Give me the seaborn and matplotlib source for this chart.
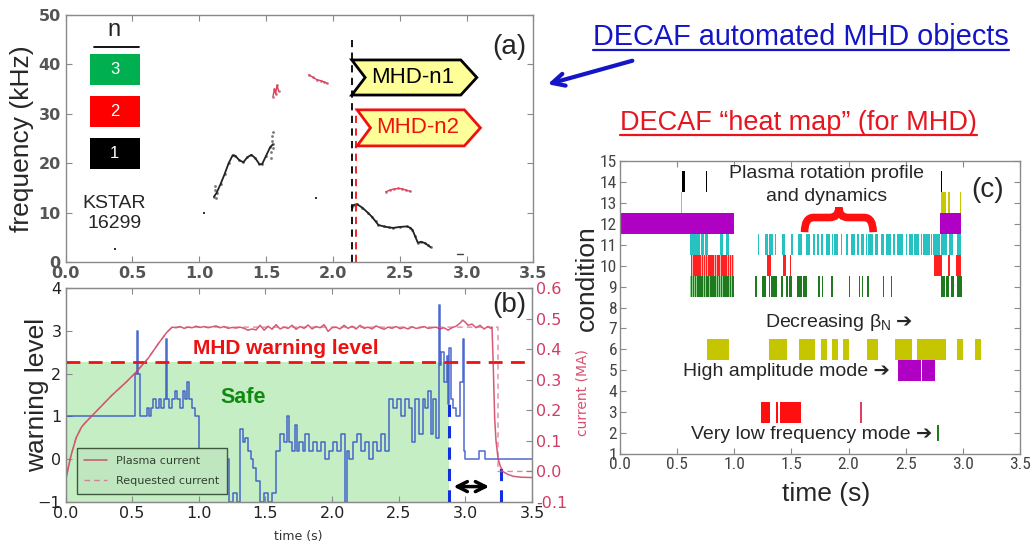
import matplotlib
matplotlib.use("Agg")
import numpy as np
import pandas as pd
import matplotlib.pyplot as plt
import seaborn as sns
from matplotlib.patches import Polygon, Rectangle, PathPatch, FancyArrowPatch
from matplotlib.path import Path
from matplotlib.lines import Line2D
from matplotlib.ticker import FormatStrFormatter
from matplotlib import font_manager

# ---------------- Panel (a): MHD mode traces (time s, frequency kHz) ----------------
n1_early_t = [1.11, 1.13, 1.16, 1.19, 1.22, 1.25, 1.27, 1.30, 1.33, 1.36, 1.39, 1.42, 1.45, 1.47, 1.50, 1.53, 1.55]
n1_early_f = [13.2, 14.0, 15.8, 17.8, 20.0, 21.6, 21.5, 20.6, 20.2, 21.2, 21.7, 21.0, 19.8, 19.8, 21.5, 23.2, 23.8]
n1_burst_t = [1.54, 1.54, 1.545, 1.545, 1.55, 1.55, 1.12, 1.12, 1.125]
n1_burst_f = [21.0, 22.2, 24.5, 25.5, 26.3, 23.0, 14.5, 15.3, 13.0]
n1_late_t = [2.14, 2.16, 2.18, 2.22, 2.26, 2.29, 2.32, 2.34, 2.38, 2.42, 2.45, 2.50, 2.555, 2.58, 2.595, 2.615, 2.635, 2.66, 2.69, 2.71, 2.73]
n1_late_f = [11.2, 11.6, 11.7, 11.0, 10.0, 9.2, 8.2, 7.5, 7.2, 7.0, 6.9, 7.1, 7.2, 6.9, 6.5, 5.2, 3.9, 4.1, 3.8, 3.4, 3.0]
n2_seg1_t = [1.552, 1.562, 1.572, 1.582, 1.594]
n2_seg1_f = [33.5, 35.0, 34.0, 35.8, 34.6]
n2_seg2_t = [1.82, 1.85, 1.88, 1.91, 1.93, 1.955]
n2_seg2_f = [37.9, 37.4, 36.9, 36.7, 36.5, 36.2]
n2_seg3_t = [2.395, 2.43, 2.46, 2.49, 2.52, 2.55, 2.58]
n2_seg3_f = [14.2, 14.6, 14.8, 14.9, 14.8, 14.5, 14.3]
isolated_t = [0.37, 1.033, 1.875]
isolated_f = [2.6, 9.85, 12.9]
late_dash_t = [2.93, 2.97]
late_dash_f = [1.6, 1.6]
n1_onset = 2.141
n1_onset_top = 44.9
n2_onset = 2.176
n2_onset_top = 30.8
mode_numbers = ["3", "2", "1"]
mode_colors = ["#00b050", "#ff0000", "#000000"]
tag_n1 = dict(x0=2.141, x1=3.076, lo=33.8, hi=40.9)
tag_n2 = dict(x0=2.181, x1=3.103, lo=23.5, hi=30.8)

# ---------------- Panel (b): warning level and plasma current ----------------
warn_t = [0.00, 0.52, 0.535, 0.545, 0.56, 0.61, 0.63, 0.64, 0.66, 0.68,
          0.70, 0.72, 0.74, 0.755, 0.765, 0.78, 0.80, 0.82, 0.84, 0.86,
          0.88, 0.90, 0.91, 0.93, 0.95, 0.97, 1.00, 1.05, 1.10, 1.13,
          1.16, 1.18, 1.20, 1.23, 1.26, 1.29, 1.31, 1.33, 1.35, 1.37,
          1.39, 1.41, 1.43, 1.46, 1.49, 1.52, 1.55, 1.58, 1.61, 1.64,
          1.66, 1.68, 1.70, 1.72, 1.735, 1.75, 1.78, 1.80, 1.83, 1.86,
          1.89, 1.92, 1.95, 1.98, 2.01, 2.04, 2.07, 2.10, 2.11, 2.13,
          2.16, 2.19, 2.22, 2.25, 2.28, 2.31, 2.34, 2.37, 2.40, 2.43,
          2.46, 2.49, 2.52, 2.55, 2.58, 2.60, 2.62, 2.65, 2.68, 2.70,
          2.72, 2.74, 2.76, 2.78, 2.80, 2.81, 2.82, 2.84, 2.86, 2.87,
          2.88, 2.89, 2.91, 2.93, 2.96, 2.98, 2.99, 3.00, 3.02, 3.10,
          3.15, 3.50]
warn_w = [1.0, 2.0, 3.0, 2.0, 1.0, 1.2, 1.0, 1.2, 1.4, 1.2,
          1.4, 1.2, 1.4, 2.8, 1.4, 1.2, 1.4, 1.6, 1.4, 1.2,
          1.6, 1.4, 1.8, 1.4, 1.2, 1.0, 0.0, 0.2, 0.0, 0.2,
          0.0, -0.4, 0.0, -1.0, -0.8, -1.0, 0.7, 0.4, 0.5, 0.2,
          0.0, -0.2, -0.5, -1.0, -0.8, -1.0, -0.8, 0.2, 0.6, 0.4,
          1.0, 0.4, 0.2, 0.8, 0.2, 0.4, 0.2, 0.6, 0.2, 0.4,
          0.2, 0.4, 0.0, 0.2, 0.4, 0.2, 0.6, -1.0, 0.2, 0.0,
          0.4, 0.6, 0.2, 0.4, 0.0, 0.4, 0.2, 0.6, 0.2, 1.4,
          1.2, 1.4, 1.0, 1.4, 1.2, 0.4, 1.4, 0.6, 1.4, 1.2,
          1.6, 0.6, 1.4, 0.5, 3.6, 2.2, 2.5, 1.8, 2.4, 1.3,
          2.6, 1.4, 1.2, 1.0, 1.8, 2.8, 0.2, 0.0, 0.0, 0.2,
          0.0, 0.0]
ip_t = [0.00, 0.04, 0.08, 0.12, 0.15, 0.25, 0.35, 0.45, 0.53, 0.62,
        0.70, 0.76, 0.80, 0.83, 0.86, 0.89, 0.92, 0.95, 0.98, 1.01,
        1.04, 1.07, 1.10, 1.13, 1.16, 1.19, 1.22, 1.25, 1.28, 1.31,
        1.34, 1.37, 1.40, 1.43, 1.46, 1.49, 1.52, 1.55, 1.58, 1.61,
        1.64, 1.67, 1.70, 1.73, 1.76, 1.79, 1.82, 1.85, 1.88, 1.91,
        1.94, 1.97, 2.00, 2.03, 2.06, 2.09, 2.12, 2.15, 2.18, 2.21,
        2.24, 2.27, 2.30, 2.33, 2.36, 2.39, 2.42, 2.45, 2.48, 2.51,
        2.54, 2.57, 2.60, 2.63, 2.66, 2.69, 2.72, 2.75, 2.78, 2.81,
        2.84, 2.87, 2.90, 2.93, 2.96, 2.98, 3.00, 3.02, 3.05, 3.08,
        3.11, 3.14, 3.17, 3.19, 3.20, 3.21, 3.22, 3.23, 3.245, 3.26,
        3.28, 3.32, 3.36, 3.42, 3.50]
ip_ma = [-0.03, 0.05, 0.11, 0.145, 0.16, 0.205, 0.25, 0.29, 0.325, 0.37,
         0.42, 0.455, 0.472, 0.470, 0.474, 0.468, 0.472, 0.470, 0.475, 0.471,
         0.474, 0.470, 0.473, 0.476, 0.470, 0.474, 0.468, 0.471, 0.469, 0.472,
         0.468, 0.462, 0.466, 0.463, 0.478, 0.462, 0.475, 0.465, 0.480, 0.466,
         0.472, 0.468, 0.478, 0.465, 0.474, 0.468, 0.479, 0.466, 0.474, 0.470,
         0.480, 0.458, 0.470, 0.472, 0.466, 0.478, 0.468, 0.475, 0.466, 0.478,
         0.468, 0.472, 0.466, 0.476, 0.470, 0.465, 0.472, 0.468, 0.474, 0.467,
         0.471, 0.466, 0.473, 0.468, 0.470, 0.474, 0.468, 0.470, 0.472, 0.466,
         0.470, 0.462, 0.470, 0.475, 0.485, 0.495, 0.488, 0.478, 0.482, 0.470,
         0.478, 0.466, 0.474, 0.468, 0.472, 0.337, 0.173, 0.10, 0.043, 0.02,
         0.0, -0.01, -0.016, -0.019, -0.02]
req_t = [0.00, 0.04, 0.08, 0.12, 0.15, 0.25, 0.35, 0.45, 0.53, 0.62, 0.70, 0.76, 0.80, 3.245, 3.245, 3.50]
req_ma = [-0.03, 0.05, 0.11, 0.145, 0.16, 0.205, 0.25, 0.29, 0.325, 0.37, 0.42, 0.455, 0.472, 0.472, 0.0, 0.0]
warning_threshold = 2.28
safe_end = 2.88
alarm_t = 2.88
alarm_top = 1.3
disrupt_t = 3.27
disrupt_top = -0.2
lead_arrow = (2.89, 3.20, -0.64)

# ---------------- Panel (c): DECAF heat map (start time s, duration s) ----------------
row14_black = [(0.545, 0.022), (0.752, 0.012), (2.806, 0.010)]
row14_gray = [(1.37, 0.006)]
row13_yellow = [(0.53, 0.010), (2.805, 0.045), (2.868, 0.022), (2.975, 0.012)]
row12_magenta = [(0.0, 1.0), (2.80, 0.185)]
row11_cyan = [(0.612, 0.025), (0.640, 0.025), (0.668, 0.012), (0.685, 0.012), (0.705, 0.030),
              (0.740, 0.033), (0.875, 0.030), (0.930, 0.028),
              (1.205, 0.012), (1.265, 0.030), (1.300, 0.040), (1.355, 0.012), (1.420, 0.022),
              (1.500, 0.015), (1.560, 0.030), (1.630, 0.030), (1.690, 0.020), (1.725, 0.012),
              (1.755, 0.025), (1.800, 0.035), (1.855, 0.012), (1.875, 0.035), (1.930, 0.012),
              (1.975, 0.020), (2.020, 0.035), (2.075, 0.012), (2.110, 0.025), (2.150, 0.012),
              (2.170, 0.040), (2.230, 0.030), (2.280, 0.030), (2.330, 0.040), (2.390, 0.012),
              (2.420, 0.060), (2.500, 0.012), (2.530, 0.030), (2.575, 0.040), (2.630, 0.012),
              (2.655, 0.060), (2.720, 0.012), (2.740, 0.060), (2.805, 0.055), (2.880, 0.030),
              (2.945, 0.040)]
row10_red_band = [(0.62, 0.38)]
row10_red = [(0.622, 0.012), (0.640, 0.012), (0.658, 0.014), (0.676, 0.012), (0.694, 0.016),
             (0.714, 0.012), (0.732, 0.014), (0.752, 0.012), (0.770, 0.016), (0.790, 0.012),
             (0.808, 0.014), (0.828, 0.012), (0.846, 0.016), (0.866, 0.012), (0.884, 0.014),
             (0.904, 0.012), (0.922, 0.016), (0.942, 0.012), (0.960, 0.014), (0.980, 0.012),
             (1.285, 0.035), (1.430, 0.020), (1.490, 0.008), (2.750, 0.070), (2.870, 0.020),
             (2.940, 0.045)]
row_pink_thin = [(1.738, 0.006)]
row9_green_band = [(0.615, 0.385)]
row9_green = [(0.618, 0.012), (0.636, 0.014), (0.656, 0.012), (0.674, 0.016), (0.694, 0.012),
              (0.712, 0.014), (0.732, 0.012), (0.750, 0.016), (0.770, 0.012), (0.788, 0.014),
              (0.808, 0.012), (0.826, 0.016), (0.846, 0.012), (0.864, 0.014), (0.884, 0.012),
              (0.902, 0.016), (0.922, 0.012), (0.940, 0.014), (0.960, 0.012), (0.978, 0.016),
              (1.185, 0.010), (1.245, 0.030), (1.300, 0.012), (1.320, 0.050), (1.405, 0.025),
              (1.455, 0.012), (1.475, 0.030), (1.545, 0.050), (1.605, 0.035), (1.735, 0.012),
              (1.765, 0.008), (1.850, 0.012), (2.000, 0.010), (2.090, 0.012), (2.115, 0.015),
              (2.160, 0.020), (2.300, 0.010), (2.375, 0.008), (2.810, 0.030), (2.850, 0.030),
              (2.900, 0.025), (2.950, 0.040)]
row6_yellow = [(0.758, 0.199), (1.306, 0.152), (1.566, 0.140), (1.756, 0.052), (1.852, 0.058),
               (1.954, 0.052), (2.158, 0.096), (2.406, 0.146), (2.601, 0.251), (2.951, 0.052),
               (3.106, 0.052)]
row5_magenta = [(2.435, 0.200), (2.640, 0.115)]
row3_red = [(1.234, 0.078), (1.362, 0.017), (1.400, 0.181)]
row3_crimson = [(2.100, 0.014)]
row2_green = [(2.770, 0.020)]

# ---------------- style ----------------
sns.set_style("white")
avail = {f.name for f in font_manager.fontManager.ttflist}
NARROW, tick_size_c = "DejaVu Sans", 10
for cand, sz in [("Liberation Sans Narrow", 13), ("Roboto Condensed", 12.5),
                 ("DejaVu Sans Condensed", 11), ("Roboto", 12)]:
    if cand in avail:
        NARROW, tick_size_c = cand, sz
        break
ARIAL = ["Liberation Sans", "DejaVu Sans"]
plt.rcParams["font.family"] = ["DejaVu Sans"]
plt.rcParams["mathtext.fontset"] = "custom"
plt.rcParams["mathtext.rm"] = "Liberation Sans"
plt.rcParams["mathtext.it"] = "Liberation Sans:italic"
plt.rcParams["mathtext.bf"] = "Liberation Sans:bold"

W, H = 1031, 547
fig = plt.figure(figsize=(W / 100, H / 100), dpi=100)
fig.patch.set_facecolor("white")

def fbox(l, t, r, b):
    return [l / W, 1 - b / H, (r - l) / W, (b - t) / H]

ax_a = fig.add_axes(fbox(65.5, 15, 533.5, 262))
ax_b = fig.add_axes(fbox(65.5, 288, 532, 502))
ax_c = fig.add_axes(fbox(620, 161, 1020, 454))

def style_axes(ax, spine="#8a8a8a"):
    for s in ax.spines.values():
        s.set_color(spine)
        s.set_linewidth(1.0)
    ax.tick_params(direction="in", length=4, width=0.8, color="#8a8a8a",
                   top=True, right=True, left=True, bottom=True)

# ======================= Panel (a) =======================
style_axes(ax_a)
kw_line = dict(estimator=None, sort=False, legend=False)
sns.lineplot(x=n1_early_t, y=n1_early_f, ax=ax_a, color="#222222", lw=1.3, **kw_line)
sns.lineplot(x=n1_late_t, y=n1_late_f, ax=ax_a, color="#222222", lw=1.3, **kw_line)
sns.scatterplot(x=n1_early_t + n1_late_t + n1_burst_t, y=n1_early_f + n1_late_f + n1_burst_f,
                ax=ax_a, color="#777777", s=4, marker="o", linewidth=0, legend=False)
for tt, ff in [(n2_seg1_t, n2_seg1_f), (n2_seg2_t, n2_seg2_f), (n2_seg3_t, n2_seg3_f)]:
    sns.lineplot(x=tt, y=ff, ax=ax_a, color="#e0405a", lw=1.0, **kw_line)
    sns.scatterplot(x=tt, y=ff, ax=ax_a, color="#c08090", s=4, linewidth=0, legend=False)
sns.scatterplot(x=isolated_t, y=isolated_f, ax=ax_a, color="#333333", s=3, marker="s",
                linewidth=0, legend=False)
sns.lineplot(x=late_dash_t, y=late_dash_f, ax=ax_a, color="#444444", lw=1.0, **kw_line)
ax_a.vlines(n1_onset, 0, n1_onset_top, colors="black", linestyles=(0, (4, 3)), lw=1.3)
ax_a.vlines(n2_onset, 0, n2_onset_top, colors="#ee1111", linestyles=(0, (4, 3)), lw=1.3)

def mode_tag(ax, tag, text, edge):
    x0, x1, lo, hi = tag["x0"], tag["x1"], tag["lo"], tag["hi"]
    ym = (lo + hi) / 2
    notch, tip = 0.10, 0.12
    verts = [(x0, hi), (x1 - tip, hi), (x1, ym), (x1 - tip, lo), (x0, lo), (x0 + notch, ym)]
    ax.add_patch(Polygon(verts, closed=True, fc="#ffff99", ec=edge, lw=2.0, zorder=5))
    ax.text((x0 + notch + x1 - tip) / 2, ym, text, color=edge, fontsize=16, family=ARIAL,
            ha="center", va="center", zorder=6)

mode_tag(ax_a, tag_n1, "MHD-n1", "black")
mode_tag(ax_a, tag_n2, "MHD-n2", "#ee1111")

ax_a.text(0.104, 0.94, "n", transform=ax_a.transAxes, fontsize=17, family=ARIAL,
          ha="center", va="center")
ax_a.add_line(Line2D([0.06, 0.156], [0.872, 0.872], transform=ax_a.transAxes, color="black", lw=1.3))
box_tops = [0.842, 0.673, 0.503]
for num, col, top in zip(mode_numbers, mode_colors, box_tops):
    ax_a.add_patch(Rectangle((0.052, top - 0.127), 0.107, 0.127, transform=ax_a.transAxes,
                             fc=col, ec="none"))
    ax_a.text(0.1055, top - 0.0635, num, transform=ax_a.transAxes, color="white",
              fontsize=12, family=ARIAL, ha="center", va="center")
ax_a.text(0.104, 0.195, "KSTAR\n16299", transform=ax_a.transAxes, fontsize=14, family=ARIAL,
          ha="center", va="center", linespacing=1.25)
ax_a.text(3.32, 43.6, "(a)", fontsize=20, family=ARIAL, ha="center", va="center")

ax_a.set_xlim(0, 3.5)
ax_a.set_ylim(0, 50)
ax_a.set_xticks(np.arange(0, 3.51, 0.5))
ax_a.set_yticks([0, 10, 20, 30, 40, 50])
ax_a.xaxis.set_major_formatter(FormatStrFormatter("%.1f"))
for lab in ax_a.get_xticklabels() + ax_a.get_yticklabels():
    lab.set_fontsize(11.5)
    lab.set_fontweight("bold")
    lab.set_color("#555555")
ax_a.tick_params(axis="x", pad=3)
ax_a.set_xlabel("")
ax_a.set_ylabel("frequency (kHz)", fontsize=19, family=ARIAL)
ax_a.yaxis.set_label_coords(-0.067, 0.5)

# ======================= Panel (b) =======================
style_axes(ax_b)
ax_b.tick_params(right=False)
ax_b.fill_between([0.0, safe_end], -1, warning_threshold, color="#c5eec5", lw=0, zorder=0)
sns.lineplot(x=warn_t, y=warn_w, ax=ax_b, color="#2f4fc8", lw=1.1, alpha=0.85,
             drawstyle="steps-post", **kw_line)
ax_b.axhline(warning_threshold, color="#ee1111", lw=2.0, ls=(0, (5, 3)), zorder=4)
ax_b.vlines(alarm_t, -1, alarm_top, colors="#1030e0", linestyles=(0, (4, 3)), lw=2.2, zorder=4)
ax_b.vlines(disrupt_t, -1, disrupt_top, colors="#1030e0", linestyles=(0, (4, 3)), lw=2.2, zorder=4)
ax_b.annotate("", xy=(lead_arrow[0], lead_arrow[2]), xytext=(lead_arrow[1], lead_arrow[2]),
              arrowprops=dict(arrowstyle="<->", lw=2.5, color="black", mutation_scale=18))
ax_b.text(1.65, 2.58, "MHD warning level", color="#ee1111", fontsize=15, fontweight="bold",
          family=ARIAL, ha="center", va="center")
ax_b.text(1.33, 1.45, "Safe", color="#128a12", fontsize=15.5, fontweight="bold",
          family=ARIAL, ha="center", va="center")
ax_b.text(3.33, 3.6, "(b)", fontsize=20, family=ARIAL, ha="center", va="center", zorder=6)
ax_b.set_xlim(0, 3.5)
ax_b.set_ylim(-1, 4)
ax_b.set_xticks(np.arange(0, 3.51, 0.5))
ax_b.set_yticks([-1, 0, 1, 2, 3, 4])
ax_b.xaxis.set_major_formatter(FormatStrFormatter("%.1f"))
ax_b.tick_params(axis="both", labelsize=11.5, labelcolor="#222222", pad=3)
ax_b.set_xlabel("time (s)", fontsize=9, color="#333333")
ax_b.xaxis.set_label_coords(0.5, -0.13)
ax_b.set_ylabel("warning level", fontsize=19, family=ARIAL)
ax_b.yaxis.set_label_coords(-0.036, 0.5)

ax_b2 = ax_b.twinx()
ax_b2.set_position(ax_b.get_position())
sns.lineplot(x=ip_t, y=ip_ma, ax=ax_b2, color="#cc2f55", lw=1.1, alpha=0.8,
             label="Plasma current", estimator=None, sort=False)
sns.lineplot(x=req_t, y=req_ma, ax=ax_b2, color="#d8587a", lw=1.0, alpha=0.7,
             linestyle=(0, (4, 3)), label="Requested current", estimator=None, sort=False)
ax_b2.set_ylim(-0.1, 0.6)
ax_b2.set_yticks([-0.1, 0.0, 0.1, 0.2, 0.3, 0.4, 0.5, 0.6])
ax_b2.yaxis.set_major_formatter(FormatStrFormatter("%.1f"))
ax_b2.tick_params(axis="y", direction="in", length=4, color="#8a8a8a", labelsize=11.5,
                  labelcolor="#d03c64", pad=3)
for s in ax_b2.spines.values():
    s.set_color("#8a8a8a")
ax_b2.set_ylabel("")
ax_b2.set_xlabel("")
leg = ax_b2.legend(loc="lower left", bbox_to_anchor=(0.012, 0.012), fontsize=8,
                   frameon=True, fancybox=False, handlelength=2.0, borderpad=0.7,
                   labelspacing=0.9)
leg.get_frame().set_facecolor("#bfe6bf")
leg.get_frame().set_edgecolor("#3d5a3d")
leg.get_frame().set_alpha(1.0)
for t in leg.get_texts():
    t.set_color("#304030")
fig.text(583 / W, 1 - 393 / H, "current (MA)", rotation=90, ha="center", va="center",
         fontsize=10, color="#d94f6f")

# ======================= Panel (c) =======================
style_axes(ax_c, spine="#8a8a8a")
def bars(rowval, spans, color, h=1.0, alpha=1.0):
    ax_c.broken_barh(spans, (rowval - h / 2, h), facecolors=color, edgecolor="none", alpha=alpha)

bars(14, row14_black, "black")
bars(14, row14_gray, "#777777", h=0.8)
bars(13, row13_yellow, "#c8c800")
bars(12, row12_magenta, "#b000c4")
bars(11, row11_cyan, "#26c2c2")
bars(10, row10_red_band, "#ffb0b0")
bars(10, row10_red, "#ff2020")
bars(10, row_pink_thin, "#e070b0", h=1.0)
bars(11, row_pink_thin, "#e070b0", h=1.0)
bars(9, row9_green_band, "#8fd08f")
bars(9, row9_green, "#1f7a1f")
bars(6, row6_yellow, "#c6c600")
bars(5, row5_magenta, "#b000c4")
bars(3, row3_red, "#ff1010")
bars(3, row3_crimson, "#e04060")
bars(2, row2_green, "#1f7a1f", h=0.8)

def brace(ax, x0, x1, yb, ym, yt, color, lw):
    xc = (x0 + x1) / 2
    r = 0.08
    verts = [(x0, yb), (x0, ym), (x0 + r, ym), (xc - r, ym), (xc, ym), (xc, yt),
             (xc, ym), (xc + r, ym), (x1 - r, ym), (x1, ym), (x1, yb)]
    codes = [Path.MOVETO, Path.CURVE3, Path.CURVE3, Path.LINETO, Path.CURVE3, Path.CURVE3,
             Path.CURVE3, Path.CURVE3, Path.LINETO, Path.CURVE3, Path.CURVE3]
    ax.add_patch(PathPatch(Path(verts, codes), fc="none", ec=color, lw=lw, capstyle="butt",
                           zorder=6))

brace(ax_c, 1.615, 2.215, 11.6, 12.3, 12.78, "#ff1010", 5.5)

ax_c.text(1.81, 14.41, "Plasma rotation profile", fontsize=14, family=ARIAL,
          ha="center", va="center", zorder=7)
ax_c.text(1.81, 13.29, "and dynamics", fontsize=14, family=ARIAL, ha="center", va="center",
          zorder=7)
ax_c.text(2.37, 7.3, r"Decreasing $\mathregular{\beta_N}$", fontsize=14, family=ARIAL,
          ha="right", va="center")
ax_c.text(2.41, 7.32, "\u2794", fontsize=14, family=["DejaVu Sans"], ha="left", va="center")
ax_c.text(2.36, 4.93, "High amplitude mode \u2794", fontsize=14, family=ARIAL,
          ha="right", va="center")
ax_c.text(2.73, 1.91, "Very low frequency mode \u2794", fontsize=14, family=ARIAL,
          ha="right", va="center")
ax_c.text(3.22, 13.6, "(c)", fontsize=20, family=ARIAL, ha="center", va="center")

ax_c.set_xlim(0, 3.5)
ax_c.set_ylim(1, 15)
ax_c.set_xticks(np.arange(0, 3.51, 0.5))
ax_c.set_yticks(np.arange(1, 16, 1))
ax_c.xaxis.set_major_formatter(FormatStrFormatter("%.1f"))
for lab in ax_c.get_xticklabels() + ax_c.get_yticklabels():
    lab.set_family(NARROW)
    lab.set_fontsize(tick_size_c)
    lab.set_color("#444444")
ax_c.tick_params(axis="both", pad=2)
ax_c.set_xlabel("time (s)", fontsize=19, family=ARIAL)
ax_c.xaxis.set_label_coords(0.515, -0.095)
ax_c.set_ylabel("condition", fontsize=19, family=ARIAL)
ax_c.yaxis.set_label_coords(-0.052, 0.6)

# ======================= headers =======================
h1 = fig.text(593 / W, 1 - 36.7 / H, "DECAF automated MHD objects", fontsize=20.8,
              family=ARIAL, color="#1515c8", ha="left", va="center")
h2 = fig.text(620 / W, 1 - 123 / H, "DECAF \u201cheat map\u201d (for MHD)", fontsize=19.5,
              family=ARIAL, color="#e8141e", ha="left", va="center")
fig.canvas.draw()
rend = fig.canvas.get_renderer()
for txt, ypix, col in [(h1, 50, "#1515c8"), (h2, 135, "#e8141e")]:
    bb = txt.get_window_extent(rend)
    fig.add_artist(Line2D([bb.x0 / W, bb.x1 / W], [1 - ypix / H, 1 - ypix / H],
                          transform=fig.transFigure, color=col, lw=1.6))
fig.add_artist(FancyArrowPatch((635 / W, 1 - 60 / H), (545 / W, 1 - 85 / H),
                               transform=fig.transFigure, arrowstyle="->", mutation_scale=22,
                               lw=3, color="#1515c8"))

fig.savefig("out.png", dpi=100, facecolor="white")
